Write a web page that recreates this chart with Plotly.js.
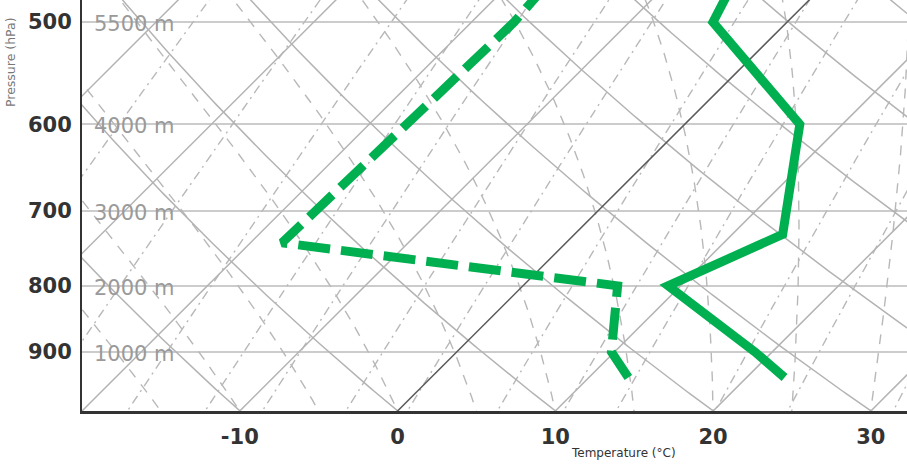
<!DOCTYPE html>
<html><head><meta charset="utf-8">
<script src="https://cdn.plot.ly/plotly-3.0.1.min.js"></script>
<style>html,body{margin:0;padding:0;background:#fff;overflow:hidden}#chart{width:907px;height:467px}</style>
</head><body><div id="chart"></div>
<script>
// ---- Sounding data ----
const tempPressure = [942, 900, 800, 730, 600, 500, 450];
const temperature  = [22.4, 18.9, 9.2, 13.2, 7.3, -4.7, -6.5];
const dewPressure  = [942, 900, 800, 741, 500, 450];
const dewpoint     = [12.5, 9.8, 6.0, -18.0, -17.3, -17.8];

// ---- Axis ticks / labels ----
const pressureTicks = [500, 600, 700, 800, 900];
const heightLabels  = ['5500 m', '4000 m', '3000 m', '2000 m', '1000 m'];
const tempTicks     = [-10, 0, 10, 20, 30];

// ---- Reference line families (values at 1000 hPa / g/kg) ----
const isothermValues     = [-70, -60, -50, -40, -30, -20, -10, 0, 10, 20, 30, 40];
const dryAdiabatValues   = [-30, -20, -10, 0, 10, 20, 30, 40, 50, 60, 70, 80, 90, 100];
const moistAdiabatValues = [-30, -25, -20, -15, -10, -5, 0, 5, 10, 15, 20, 25, 30, 35];
const mixingRatioValues  = [0.3, 0.6, 1, 1.5, 2, 3, 4, 6, 8, 10, 15, 20, 30];

const SKEW = 35.62;              // degC per ln(1000/p)
const P_TOP = 480.7, P_BOT = 1000;
const skewX = (T, p) => T + SKEW * Math.log(1000 / p);

// pressure samples for guide curves
const pSamples = [];
for (let p = 1050; p >= 400; p -= 5) pSamples.push(p);

const traces = [];
const GREY = '#b3b3b3';
function guide(xs, ys, color, width, dash) {
  traces.push({type: 'scatter', mode: 'lines', x: xs, y: ys, hoverinfo: 'skip', showlegend: false,
    line: {color: color, width: width, dash: dash || 'solid'}});
}

// mixing ratio lines (dash-dot)
mixingRatioValues.forEach(w => {
  const xs = [], ys = [];
  pSamples.forEach(p => {
    const e = w * p / (622 + w);
    const l = Math.log(e / 6.112);
    const T = 243.5 * l / (17.67 - l);
    xs.push(skewX(T, p)); ys.push(p);
  });
  guide(xs, ys, '#b8b8b8', 1.4, '9px,5px,2px,5px');
});

// moist adiabats (long dash)
function lapse(p, T) {
  const Tc = T - 273.15;
  const es = 6.112 * Math.exp(17.67 * Tc / (Tc + 243.5));
  const rs = 0.622 * es / (p - es);
  const Lv = 2.501e6, Rd = 287.04, cp = 1005.7;
  return (Rd * T + Lv * rs) / (p * (cp + Lv * Lv * rs * 0.622 / (Rd * T * T)));
}
function integrate(T0, p0, p1, dp) {
  const out = [];
  let T = T0 + 273.15, p = p0;
  out.push([p, T]);
  while ((dp < 0 && p + dp >= p1) || (dp > 0 && p + dp <= p1)) {
    const k1 = lapse(p, T);
    const k2 = lapse(p + dp / 2, T + dp / 2 * k1);
    const k3 = lapse(p + dp / 2, T + dp / 2 * k2);
    const k4 = lapse(p + dp, T + dp * k3);
    T += dp / 6 * (k1 + 2 * k2 + 2 * k3 + k4);
    p += dp;
    out.push([p, T]);
  }
  return out;
}
moistAdiabatValues.forEach(t0 => {
  const up = integrate(t0, 1000, 400, -5);
  const down = integrate(t0, 1000, 1050, 5).reverse();
  const pts = down.concat(up.slice(1));
  guide(pts.map(q => skewX(q[1] - 273.15, q[0])), pts.map(q => q[0]), '#b8b8b8', 1.4, '10px,9px');
});

// dry adiabats (solid)
dryAdiabatValues.forEach(th => {
  const xs = [], ys = [];
  pSamples.forEach(p => {
    const T = (th + 273.15) * Math.pow(p / 1000, 0.286) - 273.15;
    xs.push(skewX(T, p)); ys.push(p);
  });
  guide(xs, ys, GREY, 1.5);
});

// isotherms (solid, 0 degC darker)
isothermValues.forEach(t => {
  guide([skewX(t, 1050), skewX(t, 400)], [1050, 400], t === 0 ? '#5a5a5a' : GREY, 1.5);
});

// sounding
traces.push({type: 'scatter', mode: 'lines', name: 'Dewpoint',
  x: dewpoint.map((t, i) => skewX(t, dewPressure[i])), y: dewPressure,
  line: {color: '#00b050', width: 9, dash: '32px,11px'}, showlegend: false});
traces.push({type: 'scatter', mode: 'lines', name: 'Temperature',
  x: temperature.map((t, i) => skewX(t, tempPressure[i])), y: tempPressure,
  line: {color: '#00b050', width: 9}, showlegend: false});

const annotations = pressureTicks.map((p, i) => ({
  xref: 'x', yref: 'y', x: -19.35, y: Math.log10(p), text: heightLabels[i],
  xanchor: 'left', yanchor: 'middle', showarrow: false, yshift: -2,
  font: {family: 'DejaVu Sans', size: 21, color: '#9a9a9a'}
}));
annotations.push({xref: 'paper', yref: 'paper', x: -0.0873, y: 0.849, text: 'Pressure (hPa)',
  textangle: -90, showarrow: false, xanchor: 'center', yanchor: 'middle',
  font: {family: 'DejaVu Sans', size: 12.5, color: '#777'}});
annotations.push({xref: 'paper', yref: 'paper', x: 0.6558, y: -0.102, text: 'Temperature (°C)',
  showarrow: false, xanchor: 'center', yanchor: 'middle',
  font: {family: 'DejaVu Sans', size: 12, color: '#333'}});

const layout = {
  width: 907, height: 467,
  margin: {l: 82, r: 0, t: 0, b: 56, pad: 0},
  paper_bgcolor: '#fff', plot_bgcolor: '#fff',
  showlegend: false,
  xaxis: {range: [-20, 32.29], tickvals: tempTicks, ticktext: tempTicks.map(String),
    showgrid: false, zeroline: false, showline: true, linecolor: '#333', linewidth: 3,
    ticks: '', ticklabelstandoff: 5,
    tickfont: {family: 'DejaVu Sans', size: 21, color: '#333', weight: 'bold'}},
  yaxis: {type: 'log', range: [Math.log10(P_BOT), Math.log10(P_TOP)],
    tickvals: pressureTicks, ticktext: pressureTicks.map(String),
    showgrid: true, gridcolor: '#cccccc', gridwidth: 2, zeroline: false,
    showline: true, linecolor: '#333', linewidth: 2, ticks: '', ticklabelstandoff: 4,
    tickfont: {family: 'DejaVu Sans', size: 21, color: '#333', weight: 'bold'}},
  annotations: annotations
};
Plotly.newPlot('chart', traces, layout, {staticPlot: true, displayModeBar: false});
</script></body></html>
